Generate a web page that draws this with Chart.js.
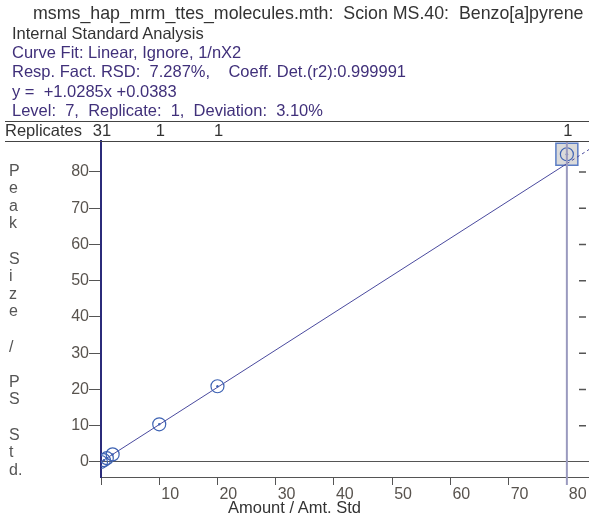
<!DOCTYPE html>
<html>
<head>
<meta charset="utf-8">
<script src="https://cdn.jsdelivr.net/npm/chart.js@4.4.0/dist/chart.umd.min.js"></script>
<style>
body { margin: 0; background: #fff; overflow: hidden; }
#wrap { position: relative; width: 589px; height: 516px; overflow: hidden; font-family: "Liberation Sans", Arial, sans-serif; font-size: 16.5px; }
canvas { position: absolute; left: 0; top: 0; }
.txt { position: absolute; white-space: pre; line-height: 19.3px; color: #333; }
.fit { color: #40307a; }
#ytitle { position: absolute; left: 9px; top: 161.6px; font-size: 16px; line-height: 17.6px; color: #555; white-space: pre; }
</style>
</head>
<body>
<div id="wrap">
  <canvas id="calChart" width="589" height="516"></canvas>
  <div class="txt" style="left:33px;top:3.6px;font-size:17.8px">msms_hap_mrm_ttes_molecules.mth:  Scion MS.40:  Benzo[a]pyrene</div>
  <div class="txt" style="left:12px;top:23.9px">Internal Standard Analysis
<span class="fit">Curve Fit: Linear, Ignore, 1/nX2
Resp. Fact. RSD:  7.287%,    Coeff. Det.(r2):0.999991
y =  +1.0285x +0.0383
Level:  7,  Replicate:  1,  Deviation:  3.10%</span></div>
  <div id="ytitle">P
e
a
k

S
i
z
e

/

P
S

S
t
d.</div>
  <div class="txt" style="left:228px;top:497.6px">Amount / Amt. Std</div>
</div>
<script>
// calibration levels (amount ratio) and measured response ratio
const amounts = [0, 0.5, 1, 2, 10, 20, 80];
const responses = [0, 0.5, 1.05, 2.1, 10.4, 20.9, 84.9];

// fitted line
const fitX = [0, 80, 83.8];
const fitY = [0.04, 82.3, 86.2];

// selected point (level 7)
const selX = [80];
const selY = [84.9];

// replicate counts shown over the plot
const replicateX = [0, 10, 20, 80];
const replicateN = ['31', '1', '1', '1'];

const xTicks = [0, 10, 20, 30, 40, 50, 60, 70, 80];
const yTicks = [0, 10, 20, 30, 40, 50, 60, 70, 80];
const rightTicks = [10, 20, 30, 40, 50, 60, 70, 80];

const toPts = (xs, ys) => xs.map((x, i) => ({ x: x, y: ys[i] }));

const decor = {
  id: 'decor',
  afterDraw(chart) {
    const ctx = chart.ctx;
    const a = chart.chartArea;
    const xs = chart.scales.x, ys = chart.scales.y;
    ctx.save();
    // cursor line on selected level
    const cx = xs.getPixelForValue(selX[0]);
    ctx.strokeStyle = '#9a9abf';
    ctx.lineWidth = 2;
    ctx.beginPath();
    ctx.moveTo(cx, a.top);
    ctx.lineTo(cx, a.bottom + 8);
    ctx.stroke();
    // header rules
    ctx.strokeStyle = '#444';
    ctx.lineWidth = 1;
    ctx.beginPath();
    ctx.moveTo(5, a.top - 19.5); ctx.lineTo(589, a.top - 19.5);
    ctx.moveTo(5, a.top + 0.5); ctx.lineTo(589, a.top + 0.5);
    ctx.stroke();
    // right-side ticks
    ctx.strokeStyle = '#555';
    ctx.lineWidth = 1.5;
    ctx.beginPath();
    rightTicks.forEach(v => {
      const y = ys.getPixelForValue(v);
      ctx.moveTo(579, y); ctx.lineTo(586, y);
    });
    ctx.stroke();
    // replicates row
    ctx.fillStyle = '#333';
    ctx.font = '16.5px "Liberation Sans", Arial, sans-serif';
    ctx.textBaseline = 'alphabetic';
    ctx.textAlign = 'left';
    ctx.fillText('Replicates', 5, a.top - 5);
    ctx.textAlign = 'center';
    replicateX.forEach((v, i) => ctx.fillText(replicateN[i], xs.getPixelForValue(v) + 1, a.top - 5));
    ctx.restore();
  }
};

new Chart(document.getElementById('calChart'), {
  data: {
    datasets: [
      {
        type: 'scatter',
        data: toPts(amounts, responses),
        pointRadius: 1.2,
        pointBackgroundColor: '#3d62b3',
        pointBorderWidth: 0,
        order: 0
      },
      {
        type: 'scatter',
        data: toPts(amounts, responses),
        pointRadius: 6.5,
        pointBackgroundColor: 'rgba(0,0,0,0)',
        pointBorderColor: '#3d62b3',
        pointBorderWidth: 1.2,
        order: 1
      },
      {
        type: 'line',
        data: toPts(fitX, fitY),
        borderColor: '#4a4a9e',
        borderWidth: 1,
        pointRadius: 0,
        segment: { borderDash: c => c.p0.parsed.x >= 80 ? [3, 3] : undefined },
        order: 2
      },
      {
        type: 'scatter',
        data: toPts(selX, selY),
        pointStyle: 'rect',
        pointRadius: 15.5,
        backgroundColor: '#dadada',
        borderColor: '#5a7cc4',
        pointBackgroundColor: '#dadada',
        pointBorderColor: '#5a7cc4',
        pointBorderWidth: 1.5,
        order: 3
      }
    ]
  },
  options: {
    responsive: false,
    devicePixelRatio: 1,
    animation: false,
    layout: { autoPadding: false, padding: { top: 141, left: 0, right: 0, bottom: 0 } },
    plugins: { legend: { display: false }, tooltip: { enabled: false } },
    scales: {
      x: {
        type: 'linear',
        min: 0,
        max: 83.8,
        afterFit: s => { s.height = 39; s.paddingLeft = 0; s.paddingRight = 0; },
        afterBuildTicks: s => { s.ticks = xTicks.map(v => ({ value: v })); },
        grid: { drawOnChartArea: false, tickLength: 8, tickColor: '#555' },
        border: { color: '#555', width: 1 },
        ticks: {
          align: 'start',
          labelOffset: 2,
          padding: 0,
          maxRotation: 0,
          autoSkip: false,
          color: '#58534e',
          font: { family: '"Liberation Sans", Arial, sans-serif', size: 16 },
          callback: v => v === 0 ? '' : v
        }
      },
      y: {
        type: 'linear',
        min: -4.14,
        max: 88.55,
        afterFit: s => { s.width = 101; s.paddingTop = 0; s.paddingBottom = 0; },
        afterBuildTicks: s => { s.ticks = yTicks.map(v => ({ value: v })); },
        grid: {
          color: c => c.tick && c.tick.value === 0 ? '#555' : 'rgba(0,0,0,0)',
          tickLength: 12,
          tickColor: '#555'
        },
        border: { color: '#2b2b7a', width: 2 },
        ticks: {
          padding: 0,
          autoSkip: false,
          color: '#58534e',
          font: { family: '"Liberation Sans", Arial, sans-serif', size: 16 }
        }
      }
    }
  },
  plugins: [decor]
});
</script>
</body>
</html>
